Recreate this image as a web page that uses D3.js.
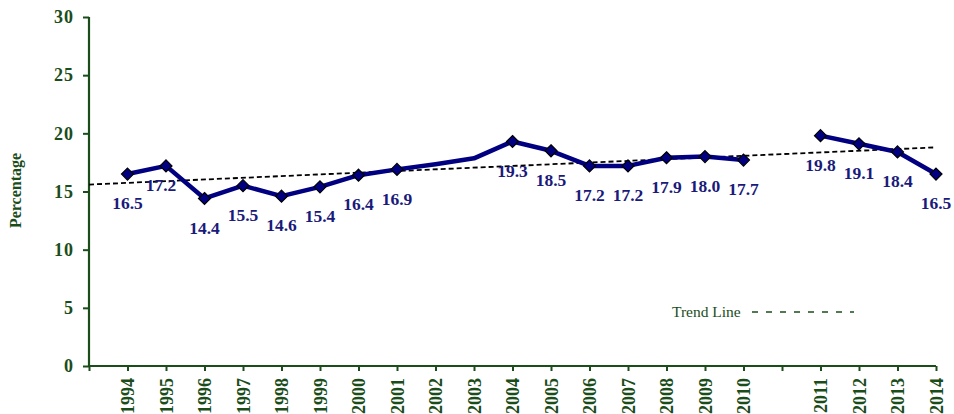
<!DOCTYPE html>
<html>
<head>
<meta charset="utf-8">
<script src="https://cdn.jsdelivr.net/npm/d3@7"></script>
<style>
  html, body { margin: 0; padding: 0; background: #fff; }
  svg { display: block; }
</style>
</head>
<body>
<svg id="chart" width="954" height="414"></svg>
<script>
// Category slots along the x axis; empty strings are spacer slots with no data.
const categories = ["", "1994", "1995", "1996", "1997", "1998", "1999", "2000", "2001",
  "2002", "2003", "2004", "2005", "2006", "2007", "2008", "2009", "2010", "",
  "2011", "2012", "2013", "2014"];
// Percentage for each slot (null where there is no observation).
const values = [null, 16.5, 17.2, 14.4, 15.5, 14.6, 15.4, 16.4, 16.9,
  17.35, 17.85, 19.3, 18.5, 17.2, 17.2, 17.9, 18.0, 17.7, null,
  19.8, 19.1, 18.4, 16.5];
// Which observations carry a marker and a value label.
const labelled = [false, true, true, true, true, true, true, true, true,
  false, false, true, true, true, true, true, true, true, false,
  true, true, true, true];
const yTicks = [0, 5, 10, 15, 20, 25, 30];
const yTitle = "Percentage";
const legendText = "Trend Line";

(function () {
  const green = "#1b4d1b";
  const navy = "#000080";
  const labelColor = "#1a1a7a";
  const serif = "'Liberation Serif', 'Times New Roman', serif";

  const svg = d3.select("#chart");
  const mLeft = 89, mRight = 936, mTop = 17, mBottom = 366;

  const x = d3.scalePoint().domain(d3.range(categories.length)).range([mLeft, mRight]).padding(0);
  const y = d3.scaleLinear().domain([0, 30]).range([mBottom, mTop]);

  const data = values.map((v, i) => ({ i, v, show: labelled[i] }));

  // Linear trend fitted to the observed points
  const obs = data.filter(d => d.v != null);
  const mx = d3.mean(obs, d => d.i), my = d3.mean(obs, d => d.v);
  const slope = d3.sum(obs, d => (d.i - mx) * (d.v - my)) / d3.sum(obs, d => (d.i - mx) ** 2);
  const trendAt = i => my + slope * (i - mx);
  const firstI = 0, lastI = categories.length - 1;

  // Axes
  const yAxis = svg.append("g")
    .attr("transform", `translate(${mLeft},0)`)
    .call(d3.axisLeft(y).tickValues(yTicks).tickSize(6).tickPadding(9));
  const xAxis = svg.append("g")
    .attr("transform", `translate(0,${mBottom})`)
    .call(d3.axisBottom(x).tickSize(5).tickFormat(i => categories[i]));

  [yAxis, xAxis].forEach(g => {
    g.select(".domain").attr("stroke", green).attr("stroke-width", 2.2);
    g.selectAll(".tick line").attr("stroke", green).attr("stroke-width", 2);
    g.selectAll("text").attr("fill", green).attr("font-family", serif).attr("font-weight", "bold");
  });
  yAxis.select(".domain").attr("d", `M0,${mBottom}V${mTop}`);
  xAxis.select(".domain").attr("d", `M${mLeft},0H${mRight}`);
  yAxis.selectAll("text").attr("font-size", 18).attr("letter-spacing", 1);
  xAxis.selectAll("text")
    .attr("font-size", 18)
    .attr("text-anchor", "end")
    .attr("transform", "rotate(-90)")
    .attr("x", -12)
    .attr("y", 0)
    .attr("dy", "0.35em");

  // Y axis title
  svg.append("text")
    .attr("transform", `translate(21,${(mTop + mBottom) / 2 - 1}) rotate(-90)`)
    .attr("text-anchor", "middle")
    .attr("font-family", serif)
    .attr("font-weight", "bold")
    .attr("font-size", 16)
    .attr("fill", green)
    .text(yTitle);

  // Trend line
  svg.append("line")
    .attr("x1", x(firstI)).attr("y1", y(trendAt(firstI)))
    .attr("x2", x(lastI)).attr("y2", y(trendAt(lastI)))
    .attr("stroke", "#000")
    .attr("stroke-width", 1.8)
    .attr("stroke-dasharray", "5,3");

  // Data line, broken at the empty slots
  const line = d3.line()
    .defined(d => d.v != null)
    .x(d => x(d.i))
    .y(d => y(d.v));
  svg.append("path")
    .datum(data)
    .attr("fill", "none")
    .attr("stroke", navy)
    .attr("stroke-width", 4.5)
    .attr("stroke-linejoin", "round")
    .attr("d", line);

  // Diamond markers
  const marked = data.filter(d => d.v != null && d.show);
  svg.append("g").selectAll("path")
    .data(marked)
    .join("path")
    .attr("transform", d => `translate(${x(d.i)},${y(d.v)})`)
    .attr("d", "M0,-6L6,0L0,6L-6,0Z")
    .attr("fill", navy)
    .attr("stroke", "#000")
    .attr("stroke-width", 1.2);

  // Value labels below each marker
  const nudge = { "1995": [-5, -10] };
  svg.append("g").selectAll("text")
    .data(marked)
    .join("text")
    .attr("x", d => x(d.i) + (nudge[categories[d.i]] || [0, 0])[0])
    .attr("y", d => y(d.v) + 29 + (nudge[categories[d.i]] || [0, 0])[1])
    .attr("dy", "0.35em")
    .attr("text-anchor", "middle")
    .attr("font-family", serif)
    .attr("font-weight", "bold")
    .attr("font-size", 17.5)
    .attr("fill", labelColor)
    .text(d => d3.format(".1f")(d.v));

  // Legend
  const legend = svg.append("g").attr("transform", "translate(672,317)");
  legend.append("text")
    .attr("font-family", serif)
    .attr("font-size", 15.5)
    .attr("fill", green)
    .text(legendText);
  legend.append("line")
    .attr("x1", 80).attr("x2", 182)
    .attr("y1", -5).attr("y2", -5)
    .attr("stroke", green)
    .attr("stroke-width", 1.5)
    .attr("stroke-dasharray", "6,8");
})();
</script>
</body>
</html>
